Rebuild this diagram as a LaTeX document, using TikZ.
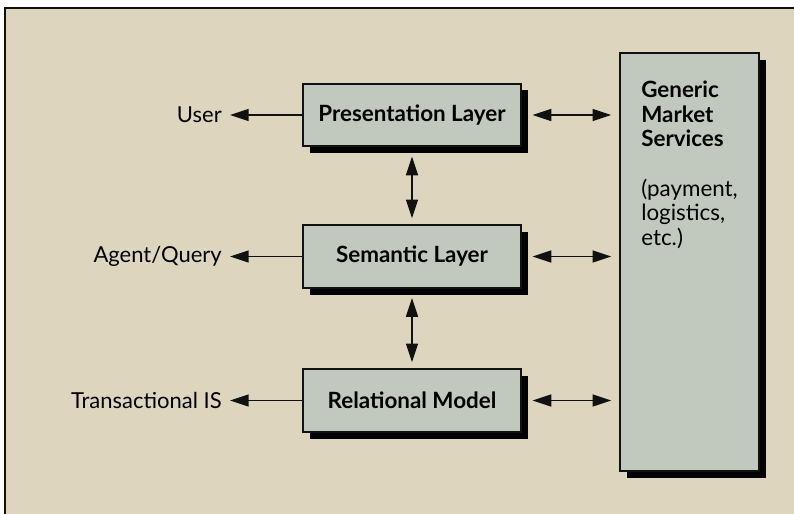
\documentclass[tikz,border=0pt]{standalone}
\usepackage{fontspec}
\setmainfont{Lato}
\usetikzlibrary{arrows.meta,positioning,shadows}
\definecolor{gmPaper}{HTML}{DDD5BE}
\definecolor{gmBox}{HTML}{C1C9BE}
\definecolor{gmInk}{HTML}{111111}
\tikzset{
  layer/.style={draw=gmInk,line width=1.4pt,fill=gmBox,
    font=\bfseries\fontsize{16.8}{18.4}\selectfont,
    minimum width=163.5pt,minimum height=47pt,inner sep=0pt,
    drop shadow={opacity=1,fill=black,shadow xshift=5pt,shadow yshift=-5pt}},
  ext/.style={font=\fontsize{16.5}{18.4}\selectfont,inner sep=0pt,anchor=east},
  link/.style={-{Triangle[length=14pt,width=9pt]},draw=gmInk,line width=1.1pt},
  duplex/.style={{Triangle[length=14pt,width=9pt]}-{Triangle[length=14pt,width=9pt]},
    draw=gmInk,line width=1.1pt},
}
\begin{document}
\begin{tikzpicture}[x=0.75pt,y=-0.75pt]
  \useasboundingbox (0,0) rectangle (794,514);
  \fill[white] (0,0) rectangle (794,514);
  \draw[fill=gmPaper,draw=gmInk,line width=0.9pt] (5,8) rectangle (810,530);
  \node[layer] (pres) at (412,115) {Presentation Layer};
  \node[layer] (sem) at (412,256.5) {Semantic Layer};
  \node[layer] (rel) at (412,400.5) {Relational Model};
  \node[layer,minimum width=104pt,minimum height=313.5pt] (gms) at (689.5,262) {};
  \node[font=\fontsize{16.8}{18.4}\selectfont,align=left,anchor=north west,inner sep=0pt]
    (gmstext) at (641,81) {\textbf{Generic}\\\textbf{Market}\\\textbf{Services}\\[18.4pt]
    (payment,\\logistics,\\etc.)};
  \node[ext] (user) at (222,115) {User};
  \node[ext] (agent) at (222,256.5) {Agent/Query};
  \node[ext] (trans) at (222,400.5) {Transactional IS};
  \foreach \a/\b in {pres/user,sem/agent,rel/trans} {
    \draw[link,shorten >=6pt] (\a.west) -- (\b.east);
  }
  \foreach \a in {pres,sem,rel} {
    \draw[duplex,shorten <=8pt,shorten >=6pt] (\a.east) -- (\a.east -| gms.west);
  }
  \draw[duplex,shorten <=7pt,shorten >=4.5pt] (pres.south) -- (sem.north);
  \draw[duplex,shorten <=7pt,shorten >=4.5pt] (sem.south) -- (rel.north);
\end{tikzpicture}
\end{document}
